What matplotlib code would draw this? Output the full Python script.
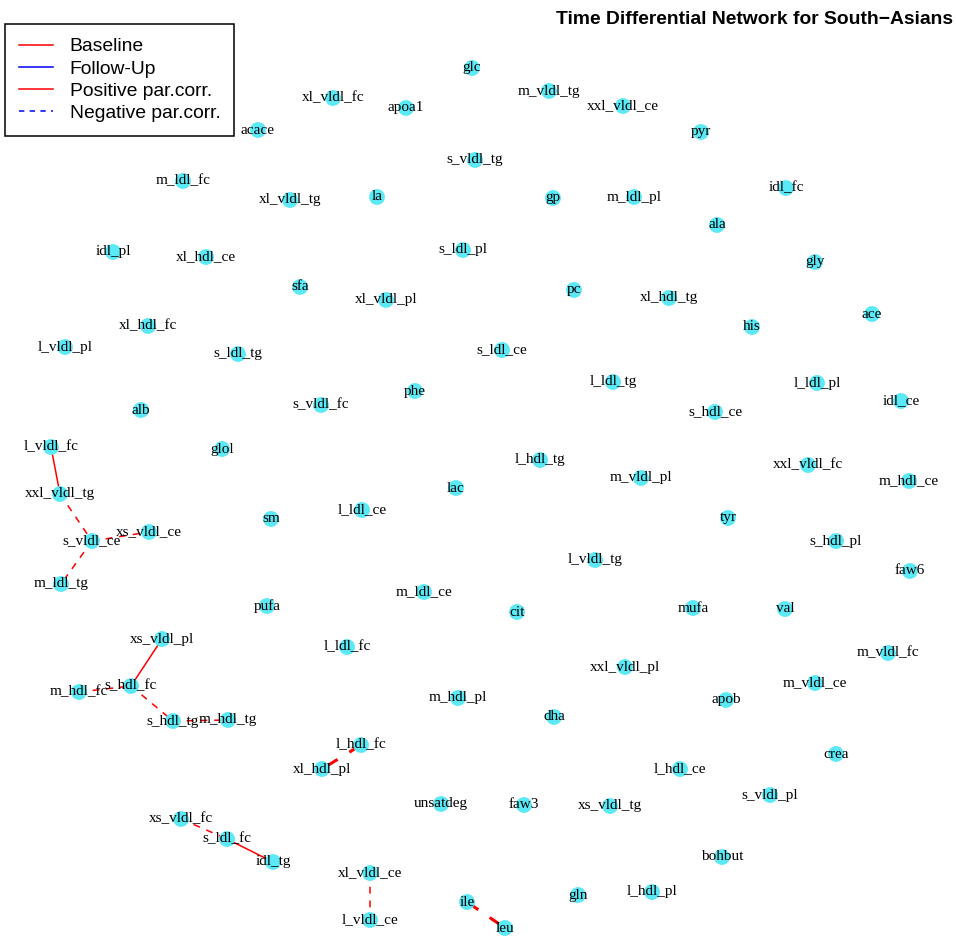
import matplotlib
matplotlib.use("Agg")
import matplotlib.pyplot as plt
from matplotlib.lines import Line2D

# ---- data: node layout (layout units), edges ----
nodes = ["glc","xl_vldl_fc","apoa1","m_vldl_tg","xxl_vldl_ce","acace","pyr","s_vldl_tg",
         "m_ldl_fc","xl_vldl_tg","la","gp","m_ldl_pl","idl_fc","ala","idl_pl","xl_hdl_ce",
         "s_ldl_pl","gly","sfa","pc","xl_vldl_pl","xl_hdl_tg","ace","his","xl_hdl_fc",
         "l_vldl_pl","s_ldl_tg","s_ldl_ce","l_ldl_tg","l_ldl_pl","phe","idl_ce","s_vldl_fc",
         "s_hdl_ce","alb","l_vldl_fc","glol","l_hdl_tg","xxl_vldl_fc","m_vldl_pl","m_hdl_ce",
         "lac","xxl_vldl_tg","l_ldl_ce","sm","tyr","xs_vldl_ce","s_vldl_ce","s_hdl_pl",
         "l_vldl_tg","faw6","m_ldl_tg","m_ldl_ce","pufa","cit","mufa","val","xs_vldl_pl",
         "l_ldl_fc","m_vldl_fc","xxl_vldl_pl","m_vldl_ce","s_hdl_fc","m_hdl_fc","m_hdl_pl",
         "apob","dha","s_hdl_tg","m_hdl_tg","l_hdl_fc","crea","l_hdl_ce","xl_hdl_pl",
         "s_vldl_pl","unsatdeg","faw3","xs_vldl_tg","xs_vldl_fc","s_ldl_fc","bohbut","idl_tg",
         "xl_vldl_ce","gln","l_hdl_pl","ile","l_vldl_ce","leu"]
node_x = [472,333,406,549,623,258,701,475,
          183,290,377,553,634,786,717,113,206,
          463,815,300,574,386,669,872,752,148,
          65,238,502,613,817,415,901,321,
          715,141,51,222,540,808,641,909,
          456,60,362,271,728,149,92,836,
          595,910,61,424,267,517,693,785,162,
          347,888,625,815,131,79,458,
          726,554,173,228,361,836,680,322,
          770,441,524,610,181,227,722,273,
          370,578,652,467,370,505]
node_y = [68,98,108,91,106,130,132,160,
          181,200,197,198,197,188,225,252,257,
          250,262,287,290,300,298,314,327,326,
          347,354,350,382,383,391,401,405,
          412,410,447,449,460,465,478,481,
          488,494,510,519,518,532,541,541,
          560,571,584,592,606,612,608,609,639,
          647,653,667,683,686,692,698,
          700,717,721,720,745,754,769,769,
          795,804,805,806,819,839,857,862,
          873,895,892,902,920,928]

edge_from = ["l_vldl_fc","xxl_vldl_tg","s_vldl_ce","s_vldl_ce","xs_vldl_pl","m_hdl_fc",
             "s_hdl_fc","s_hdl_tg","l_hdl_fc","xs_vldl_fc","s_ldl_fc","xl_vldl_ce","ile"]
edge_to   = ["xxl_vldl_tg","s_vldl_ce","xs_vldl_ce","m_ldl_tg","s_hdl_fc","s_hdl_fc",
             "s_hdl_tg","m_hdl_tg","xl_hdl_pl","s_ldl_fc","idl_tg","l_vldl_ce","leu"]
edge_sign = ["pos","neg","neg","neg","pos","neg","neg","neg","neg","neg","pos","neg","neg"]
edge_weight = [1,1,1,1,1,1,1,1,2,1,1,1,2]

legend_labels = ["Baseline","Follow-Up","Positive par.corr.","Negative par.corr."]
legend_colors = ["red","blue","red","blue"]
legend_styles = ["-","-","-","--"]

title = "Time Differential Network for South\u2212Asians"

# ---- drawing ----
W, H = 956, 936
fig = plt.figure(figsize=(W/100, H/100), dpi=100)
ax = fig.add_axes([0, 0, 1, 1])
ax.set_xlim(0, W)
ax.set_ylim(H, 0)
ax.axis("off")

pos = {n: (x, y) for n, x, y in zip(nodes, node_x, node_y)}
for a, b, s, w in zip(edge_from, edge_to, edge_sign, edge_weight):
    (x0, y0), (x1, y1) = pos[a], pos[b]
    ls = "-" if s == "pos" else (0, (4.5, 4.5))
    ax.plot([x0, x1], [y0, y1], color="red", lw=1.1*w, linestyle=ls, zorder=1,
            solid_capstyle="butt", dash_capstyle="butt")

ax.scatter(node_x, node_y, s=130, color="#5BE9F6", edgecolors="none", zorder=2)
for n, x, y in zip(nodes, node_x, node_y):
    ax.text(x, y, n, ha="center", va="center", fontsize=11,
            family="Liberation Serif", color="black", zorder=3)

fig.text(953/W, 1-19/H, title, ha="right", va="center", fontsize=13.85,
         fontweight="bold", family="Liberation Sans")

handles = [Line2D([0], [0], color=c, lw=1.1, linestyle=(0, (3.5, 3.5)) if st == "--" else "-")
           for c, st in zip(legend_colors, legend_styles)]
leg = ax.legend(handles, legend_labels, loc="upper left",
                bbox_to_anchor=(5/W, 1-24/H), bbox_transform=fig.transFigure,
                borderaxespad=0, fancybox=False, framealpha=1, edgecolor="black",
                prop={"family": "Liberation Sans", "size": 13.85},
                handlelength=1.77, handletextpad=0.88, borderpad=0.72,
                labelspacing=0.25)
leg.get_frame().set_linewidth(1.1)

fig.savefig("out.png", dpi=100)
